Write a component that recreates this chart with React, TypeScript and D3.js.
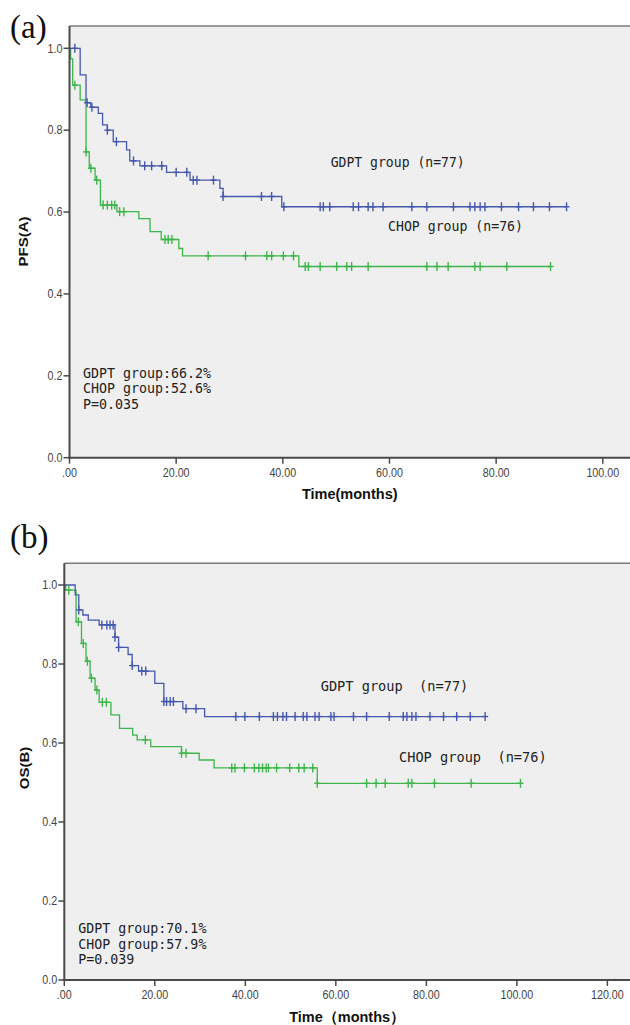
import React from 'react';
import * as d3 from 'd3';

// ---------- Data ----------
// Panel (a) PFS
const pfsGdptTimes = [0, 2.0, 3.1, 4.0, 5.4, 6.2, 7.1, 8.2, 10.7, 11.3, 13.2, 18.2, 22.6, 28.2, 28.8, 39.8];
const pfsGdptSurv = [1.0, 0.935, 0.867, 0.856, 0.841, 0.813, 0.8, 0.772, 0.752, 0.725, 0.713, 0.697, 0.678, 0.658, 0.638, 0.613];
const pfsGdptCensor = [1.0, 3.3, 4.2, 7.1, 8.8, 12.0, 14.1, 15.4, 17.3, 20.0, 22.0, 23.2, 23.9, 27.0, 28.8, 36.0, 37.9, 40.2, 47.0, 47.6, 48.8, 53.2, 54.2, 56.0, 56.9, 58.8, 64.2, 67.0, 72.0, 75.1, 76.0, 77.0, 77.9, 81.0, 84.2, 87.0, 90.0, 93.2];
const pfsGdptEnd = 93.2;

const pfsChopTimes = [0, 0.2, 0.6, 2.0, 3.1, 3.7, 4.8, 5.8, 8.9, 13.0, 15.1, 17.2, 20.5, 21.2, 43.0];
const pfsChopSurv = [1.0, 0.974, 0.91, 0.874, 0.747, 0.707, 0.678, 0.617, 0.601, 0.584, 0.552, 0.533, 0.511, 0.493, 0.467];
const pfsChopCensor = [1.0, 3.1, 4.0, 5.1, 6.3, 7.1, 7.9, 8.5, 9.4, 10.2, 17.9, 18.5, 19.2, 26.0, 33.0, 37.0, 37.9, 40.1, 42.0, 44.2, 44.8, 47.0, 50.1, 52.0, 52.9, 56.0, 67.0, 68.9, 71.0, 76.0, 77.0, 82.0, 90.2];
const pfsChopEnd = 90.2;

// Panel (b) OS
const osGdptTimes = [0, 2.4, 3.2, 4.1, 5.3, 7.7, 11.2, 12.0, 14.1, 15.0, 16.4, 20.0, 22.0, 26.2, 31.0];
const osGdptSurv = [1.0, 0.975, 0.937, 0.924, 0.911, 0.899, 0.868, 0.842, 0.824, 0.796, 0.782, 0.751, 0.705, 0.687, 0.667];
const osGdptCensor = [3.2, 8.3, 9.4, 10.1, 10.8, 11.2, 12.0, 15.0, 17.1, 18.0, 22.0, 22.6, 23.4, 24.1, 26.9, 29.1, 37.9, 39.9, 43.1, 46.2, 47.1, 48.3, 49.1, 51.0, 52.8, 53.6, 55.4, 56.3, 58.9, 59.6, 63.9, 66.8, 71.8, 74.9, 75.7, 76.8, 77.7, 80.8, 83.8, 86.7, 89.7, 93.0];
const osGdptEnd = 93.0;

const osChopTimes = [0, 0.3, 2.6, 3.8, 4.8, 5.7, 6.8, 7.7, 10.3, 12.2, 15.1, 16.1, 19.1, 25.9, 29.8, 33.1, 55.9];
const osChopSurv = [1.0, 0.987, 0.907, 0.852, 0.807, 0.764, 0.734, 0.703, 0.671, 0.637, 0.62, 0.608, 0.591, 0.574, 0.557, 0.537, 0.498];
const osChopCensor = [1.0, 3.1, 4.2, 5.1, 6.0, 7.2, 8.4, 9.3, 17.9, 25.9, 26.9, 37.0, 37.7, 39.8, 42.0, 43.0, 43.8, 44.6, 45.1, 46.9, 49.8, 51.8, 53.0, 54.9, 55.9, 66.8, 68.9, 70.9, 76.0, 76.8, 81.8, 89.9, 100.8];
const osChopEnd = 100.8;

const pfsXTicks = [0, 20, 40, 60, 80, 100];
const osXTicks = [0, 20, 40, 60, 80, 100, 120];
const yTicks = [0, 0.2, 0.4, 0.6, 0.8, 1.0];

const pfsStats = ['GDPT group:66.2%', 'CHOP group:52.6%', 'P=0.035'];
const osStats = ['GDPT group:70.1%', 'CHOP group:57.9%', 'P=0.039'];

// ---------- Styling ----------
const W = 630;
const BLUE = '#4558ad';
const GREEN = '#3db54a';
const MONO = "'DejaVu Sans Mono', 'Liberation Mono', monospace";
const SANS = "'Liberation Sans', Arial, sans-serif";

type Series = { times: number[]; surv: number[]; censor: number[]; end: number; color: string };

function valueAt(s: Series, t: number) {
  let v = s.surv[0];
  for (let i = 0; i < s.times.length; i++) if (s.times[i] <= t + 1e-9) v = s.surv[i];
  return v;
}

type Legend = { text: string; x: number; y: number; len: number };

type PanelProps = {
  letter: string;
  letterY: number;
  frameTop: number;
  left: number;
  yTop: number;
  yBottom: number;
  xMax: number;
  xTicks: number[];
  series: Series[];
  legends: Legend[];
  stats: string[];
  statsX: number;
  statsY: number;
  xTitle: string;
  xTitleY: number;
  yTitle: string;
  yTitleX: number;
  yTitleY: number;
};

function KMPanel(p: PanelProps) {
  const x = d3.scaleLinear().domain([0, p.xMax]).range([p.left, W]);
  const y = d3.scaleLinear().domain([0, 1]).range([p.yBottom, p.yTop]);
  const line = d3
    .line<[number, number]>()
    .x((d) => x(d[0]))
    .y((d) => y(d[1]))
    .curve(d3.curveStepAfter);

  const fmtX = (d: number) => (d === 0 ? '.00' : d.toFixed(2));
  const fmtY = (d: number) => d.toFixed(1);

  return (
    <g>
      <text x={10} y={p.letterY} fontFamily="'Liberation Serif', 'Times New Roman', serif" fontSize={33} fill="#111">
        {p.letter}
      </text>
      <rect x={p.left} y={p.frameTop} width={W - p.left} height={p.yBottom - p.frameTop} fill="#efefef" />
      <line x1={p.left} x2={W} y1={p.frameTop} y2={p.frameTop} stroke="#7a7a7a" strokeWidth={1.6} />

      {p.series.map((s, si) => {
        const pts: [number, number][] = s.times.map((t, i) => [t, s.surv[i]] as [number, number]);
        pts.push([s.end, s.surv[s.surv.length - 1]]);
        return (
          <g key={si}>
            <path d={line(pts) || ''} fill="none" stroke={s.color} strokeWidth={1.3} />
            {s.censor.map((c, ci) => {
              const cx = x(c);
              const cy = y(valueAt(s, c));
              return (
                <g key={ci} stroke={s.color} strokeWidth={1.4}>
                  <line x1={cx} x2={cx} y1={cy - 4.5} y2={cy + 4.5} />
                  <line x1={cx - 3} x2={cx + 3} y1={cy} y2={cy} />
                </g>
              );
            })}
          </g>
        );
      })}

      {/* axes */}
      <line x1={p.left} x2={p.left} y1={p.frameTop} y2={p.yBottom + 1} stroke="#4a4a4a" strokeWidth={2} />
      <line x1={p.left - 1} x2={W} y1={p.yBottom} y2={p.yBottom} stroke="#4a4a4a" strokeWidth={2} />
      {yTicks.map((t) => (
        <g key={'y' + t}>
          <line x1={p.left - 6} x2={p.left} y1={y(t)} y2={y(t)} stroke="#4a4a4a" strokeWidth={1.5} />
          <text
            transform={`translate(${p.left - 7},${y(t) + 4.3}) scale(0.86,1)`}
            textAnchor="end"
            fontFamily={SANS}
            fontSize={12.5}
            fill="#444"
          >
            {fmtY(t)}
          </text>
        </g>
      ))}
      {p.xTicks.map((t) => (
        <g key={'x' + t}>
          <line x1={x(t)} x2={x(t)} y1={p.yBottom} y2={p.yBottom + 6} stroke="#4a4a4a" strokeWidth={1.5} />
          <text
            transform={`translate(${x(t)},${p.yBottom + 19}) scale(0.86,1)`}
            textAnchor="middle"
            fontFamily={SANS}
            fontSize={12.5}
            fill="#444"
          >
            {fmtX(t)}
          </text>
        </g>
      ))}

      {/* axis titles */}
      <text
        x={(p.left + W) / 2}
        y={p.xTitleY}
        textAnchor="middle"
        fontFamily={SANS}
        fontWeight="bold"
        fontSize={14.5}
        fill="#111"
      >
        {p.xTitle}
      </text>
      <text
        transform={`translate(${p.yTitleX},${p.yTitleY}) rotate(-90) scale(1,0.85)`}
        textAnchor="middle"
        fontFamily={SANS}
        fontWeight="bold"
        fontSize={15}
        fill="#111"
      >
        {p.yTitle}
      </text>

      {/* legends */}
      {p.legends.map((l, i) => (
        <text
          key={'l' + i}
          x={l.x}
          y={l.y}
          fontFamily={MONO}
          fontSize={13.3}
          fill="#222"
          textLength={l.len}
          lengthAdjust="spacingAndGlyphs"
          style={{ whiteSpace: 'pre' }}
        >
          {l.text}
        </text>
      ))}
      {p.stats.map((s, i) => (
        <text key={'s' + i} x={p.statsX} y={p.statsY + i * 15.5} fontFamily={MONO} fontSize={13.3} fill="#222">
          {s}
        </text>
      ))}
    </g>
  );
}

export default function App() {
  const pfsSeries: Series[] = [
    { times: pfsChopTimes, surv: pfsChopSurv, censor: pfsChopCensor, end: pfsChopEnd, color: GREEN },
    { times: pfsGdptTimes, surv: pfsGdptSurv, censor: pfsGdptCensor, end: pfsGdptEnd, color: BLUE },
  ];
  const osSeries: Series[] = [
    { times: osChopTimes, surv: osChopSurv, censor: osChopCensor, end: osChopEnd, color: GREEN },
    { times: osGdptTimes, surv: osGdptSurv, censor: osGdptCensor, end: osGdptEnd, color: BLUE },
  ];

  return (
    <svg
      width={630}
      height={1025}
      style={{ position: 'absolute', left: 0, top: 0, display: 'block', background: '#fff' }}
    >
      <rect x={0} y={0} width={630} height={1025} fill="#fff" />
      <KMPanel
        letter="(a)"
        letterY={38}
        frameTop={26}
        left={69.5}
        yTop={48.3}
        yBottom={457.7}
        xMax={105.1}
        xTicks={pfsXTicks}
        series={pfsSeries}
        legends={[
          { text: 'GDPT group (n=77)', x: 330.7, y: 166.7, len: 134 },
          { text: 'CHOP group (n=76)', x: 388, y: 230.7, len: 135 },
        ]}
        stats={pfsStats}
        statsX={83}
        statsY={377.7}
        xTitle="Time(months)"
        xTitleY={499}
        yTitle="PFS(A)"
        yTitleX={27.5}
        yTitleY={241.5}
      />
      <KMPanel
        letter="(b)"
        letterY={548}
        frameTop={563.3}
        left={64.3}
        yTop={585}
        yBottom={980}
        xMax={125}
        xTicks={osXTicks}
        series={osSeries}
        legends={[
          { text: 'GDPT group  (n=77)', x: 320.7, y: 691, len: 147.6 },
          { text: 'CHOP group  (n=76)', x: 399, y: 761.7, len: 147.7 },
        ]}
        stats={osStats}
        statsX={78.3}
        statsY={933.3}
        xTitle="Time（months）"
        xTitleY={1022}
        yTitle="OS(B)"
        yTitleX={29}
        yTitleY={768}
      />
    </svg>
  );
}
